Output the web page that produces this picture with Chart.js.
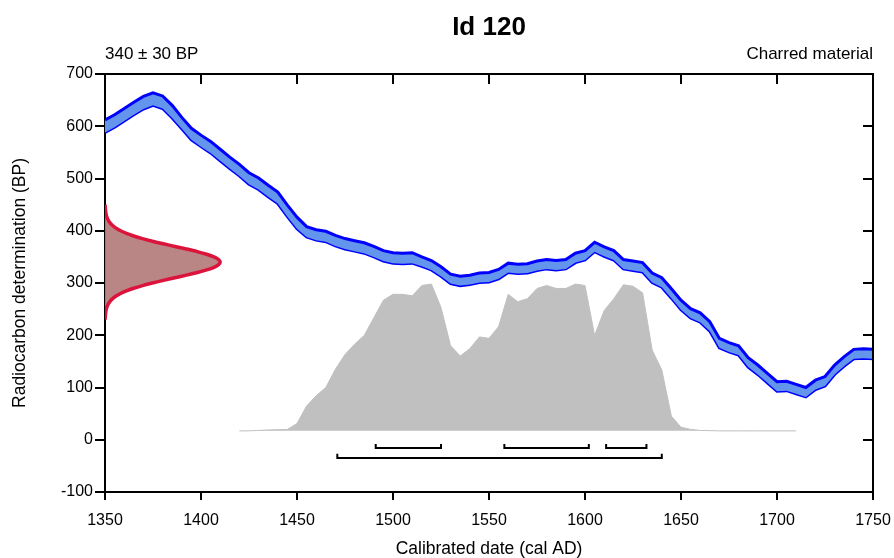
<!DOCTYPE html>
<html>
<head>
<meta charset="utf-8">
<script src="https://cdn.jsdelivr.net/npm/chart.js@4/dist/chart.umd.min.js"></script>
<style>
  html, body { margin: 0; padding: 0; background: #fff; }
  #wrap { width: 894px; height: 558px; }
</style>
</head>
<body>
<div id="wrap"><canvas id="chart" width="894" height="558"></canvas></div>
<script>
// calibration curve (cal AD vs BP)
const calYears = [1350, 1355, 1360, 1365, 1370, 1375, 1380, 1385, 1390, 1395,
  1400, 1405, 1410, 1415, 1420, 1425, 1430, 1435, 1440, 1445,
  1450, 1455, 1460, 1465, 1470, 1475, 1480, 1485, 1490, 1495,
  1500, 1505, 1510, 1515, 1520, 1525, 1530, 1535, 1540, 1545,
  1550, 1555, 1560, 1565, 1570, 1575, 1580, 1585, 1590, 1595,
  1600, 1605, 1610, 1615, 1620, 1625, 1630, 1635, 1640, 1645,
  1650, 1655, 1660, 1665, 1670, 1675, 1680, 1685, 1690, 1695,
  1700, 1705, 1710, 1715, 1720, 1725, 1730, 1735, 1740, 1745, 1750];
const calBP = [600, 610, 622, 634, 645, 652, 646, 628, 606, 585,
  572, 560, 545, 530, 516, 500, 490, 476, 463, 438,
  415, 398, 392, 389, 381, 375, 371, 367, 360, 352,
  348, 347, 348, 341, 334, 322, 308, 304, 306, 310,
  311, 317, 329, 327, 328, 333, 336, 334, 336, 348,
  353, 369, 360, 353, 336, 333, 330, 310, 301, 280,
  258, 242, 234, 217, 185, 177, 171, 148, 134, 118,
  102, 103, 97, 91, 105, 112, 134, 150, 164, 165, 164];
const calErr = [12, 12, 12, 12, 12, 12, 12, 12, 11, 11,
  11, 11, 11, 11, 11, 11, 11, 11, 11, 11,
  11, 10, 10, 10, 10, 10, 10, 10, 10, 10,
  10, 10, 10, 9, 9, 9, 9, 9, 9, 9,
  9, 9, 9, 9, 9, 9, 9, 9, 9, 9,
  9, 9, 9, 9, 9, 9, 9, 9, 9, 9,
  9, 9, 9, 9, 9, 9, 9, 9, 9, 9,
  9, 9, 9, 9, 9, 9, 9, 9, 9, 9, 9];

// radiocarbon determination 340 +/- 30 BP (relative probability by BP)
const dateBP = [230, 240, 250, 255, 260, 265, 270, 275, 280, 285, 290, 295,
  300, 305, 310, 315, 320, 325, 330, 335, 340, 345, 350, 355, 360, 365,
  370, 375, 380, 385, 390, 395, 400, 405, 410, 415, 420, 425, 430, 440, 450];
const dateProb = [0.001, 0.004, 0.011, 0.018, 0.029, 0.044, 0.066, 0.096, 0.135, 0.186, 0.249, 0.325,
  0.411, 0.506, 0.607, 0.707, 0.801, 0.882, 0.946, 0.986, 1.0, 0.986, 0.946, 0.882, 0.801, 0.707,
  0.607, 0.506, 0.411, 0.325, 0.249, 0.186, 0.135, 0.096, 0.066, 0.044, 0.029, 0.018, 0.011, 0.004, 0.001];

// calibrated (posterior) distribution
const postYears = [1420, 1425, 1430, 1435, 1440, 1445, 1450, 1455, 1460, 1465,
  1470, 1475, 1480, 1485, 1490, 1495, 1500, 1505, 1510, 1515,
  1520, 1525, 1530, 1535, 1540, 1545, 1550, 1555, 1560, 1565,
  1570, 1575, 1580, 1585, 1590, 1595, 1600, 1605, 1610, 1615,
  1620, 1625, 1630, 1635, 1640, 1645, 1650, 1655, 1660, 1670, 1680, 1690, 1700, 1710];
const postProb = [0, 0, 0.003, 0.006, 0.008, 0.01, 0.05, 0.17, 0.24, 0.295,
  0.42, 0.52, 0.59, 0.65, 0.77, 0.89, 0.93, 0.93, 0.92, 0.99,
  1.0, 0.84, 0.58, 0.51, 0.56, 0.64, 0.63, 0.71, 0.93, 0.88,
  0.9, 0.97, 0.99, 0.97, 0.97, 1.0, 0.99, 0.65, 0.82, 0.9,
  0.995, 0.985, 0.94, 0.55, 0.415, 0.1, 0.025, 0.01, 0.003, 0, 0, 0, 0, 0];

// probability ranges (68.2% and 95.4%)
const range68 = [[1491, 1525], [1558, 1602], [1611, 1632]];
const range95 = [[1471, 1640]];

const xTicks = [1350, 1400, 1450, 1500, 1550, 1600, 1650, 1700, 1750];
const yTicks = [-100, 0, 100, 200, 300, 400, 500, 600, 700];

const titleText = "Id 120";
const leftNote = "340 \u00b1 30 BP";
const rightNote = "Charred material";
const xTitle = "Calibrated date (cal AD)";
const yTitle = "Radiocarbon determination (BP)";

// drawing scale for the distributions
const dateWidth = 60;   // years at peak of the BP distribution
const postBase = 17;
const postHeight = 281;

const upper = calYears.map((x, i) => ({ x: x, y: calBP[i] + calErr[i] }));
const lower = calYears.map((x, i) => ({ x: x, y: calBP[i] - calErr[i] }));
const dateCurve = dateBP.map((bp, i) => ({ x: 1350 + dateProb[i] * dateWidth, y: bp }));
const postCurve = postYears.map((x, i) => ({ x: x, y: postBase + postProb[i] * postHeight }));

function bracket(r, level) {
  return {
    data: [{ x: r[0], y: level + 8 }, { x: r[0], y: level }, { x: r[1], y: level }, { x: r[1], y: level + 8 }],
    borderColor: "#000",
    borderWidth: 2,
    pointRadius: 0,
    fill: false,
    order: 0,
  };
}

const textPlugin = {
  id: "texts",
  afterDraw(chart) {
    const ctx = chart.ctx;
    const a = chart.chartArea;
    const xs = chart.scales.x;
    const ys = chart.scales.y;
    ctx.save();
    ctx.strokeStyle = "#000";
    ctx.lineWidth = 2;
    // top and right frame with inward ticks
    ctx.beginPath();
    ctx.moveTo(a.left, a.top);
    ctx.lineTo(a.right, a.top);
    ctx.lineTo(a.right, a.bottom);
    xTicks.forEach((t) => {
      const px = Math.round(xs.getPixelForValue(t));
      ctx.moveTo(px, a.top);
      ctx.lineTo(px, a.top + 10);
    });
    yTicks.forEach((t) => {
      const py = Math.round(ys.getPixelForValue(t));
      ctx.moveTo(a.right, py);
      ctx.lineTo(a.right - 10, py);
    });
    ctx.stroke();

    ctx.fillStyle = "#000";
    ctx.font = "bold 26px 'Liberation Sans', Arial, sans-serif";
    ctx.textAlign = "center";
    ctx.textBaseline = "alphabetic";
    ctx.fillText(titleText, (a.left + a.right) / 2, 35);

    ctx.font = "17px 'Liberation Sans', Arial, sans-serif";
    ctx.textAlign = "left";
    ctx.fillText(leftNote, a.left, 59);
    ctx.textAlign = "right";
    ctx.fillText(rightNote, a.right, 59);

    ctx.font = "17.5px 'Liberation Sans', Arial, sans-serif";
    ctx.textAlign = "center";
    ctx.fillText(xTitle, (a.left + a.right) / 2, 554);

    ctx.translate(20, (a.top + a.bottom) / 2);
    ctx.rotate(-Math.PI / 2);
    ctx.textBaseline = "middle";
    ctx.fillText(yTitle, 0, 0);
    ctx.restore();
  },
};

Chart.defaults.font.family = "'Liberation Sans', Arial, sans-serif";
Chart.defaults.font.size = 16;
Chart.defaults.color = "#000";

new Chart(document.getElementById("chart"), {
  type: "line",
  data: {
    datasets: [
      {
        data: upper,
        borderColor: "#0000ff",
        borderWidth: 3,
        backgroundColor: "#6495ed",
        fill: "+1",
        pointRadius: 0,
        tension: 0,
        order: 2,
      },
      {
        data: lower,
        borderColor: "#0000ff",
        borderWidth: 3,
        pointRadius: 0,
        fill: false,
        tension: 0,
        order: 2,
      },
      {
        data: dateCurve,
        borderColor: "#dc143c",
        borderWidth: 3.5,
        backgroundColor: "#b98585",
        fill: "shape",
        pointRadius: 0,
        tension: 0.3,
        order: 1,
      },
      {
        data: postCurve,
        borderColor: "#c0c0c0",
        borderWidth: 1,
        backgroundColor: "#c0c0c0",
        fill: { value: postBase },
        pointRadius: 0,
        tension: 0,
        order: 3,
      },
      ...range68.map((r) => bracket(r, -16)),
      ...range95.map((r) => bracket(r, -35)),
    ],
  },
  options: {
    responsive: false,
    animation: false,
    layout: { padding: { top: 74, right: 21, left: 0, bottom: 0 } },
    plugins: { legend: { display: false }, tooltip: { enabled: false } },
    scales: {
      x: {
        type: "linear",
        min: 1350,
        max: 1750,
        afterBuildTicks: (s) => { s.ticks = xTicks.map((v) => ({ value: v })); },
        afterFit: (s) => { s.height = 66; s.paddingLeft = 0; s.paddingRight = 0; },
        ticks: { padding: 11, font: { size: 16 }, color: "#000", callback: (v) => String(v) },
        grid: { drawOnChartArea: false, drawTicks: true, tickLength: 8, color: "#000", lineWidth: 2 },
        border: { display: true, color: "#000", width: 2 },
      },
      y: {
        type: "linear",
        min: -100,
        max: 700,
        afterBuildTicks: (s) => { s.ticks = yTicks.map((v) => ({ value: v })); },
        afterFit: (s) => { s.width = 105; },
        ticks: { padding: 2, font: { size: 16 }, color: "#000", callback: (v) => String(v) },
        grid: { drawOnChartArea: false, drawTicks: true, tickLength: 10, color: "#000", lineWidth: 2 },
        border: { display: true, color: "#000", width: 2 },
      },
    },
  },
  plugins: [textPlugin],
});
</script>
</body>
</html>
